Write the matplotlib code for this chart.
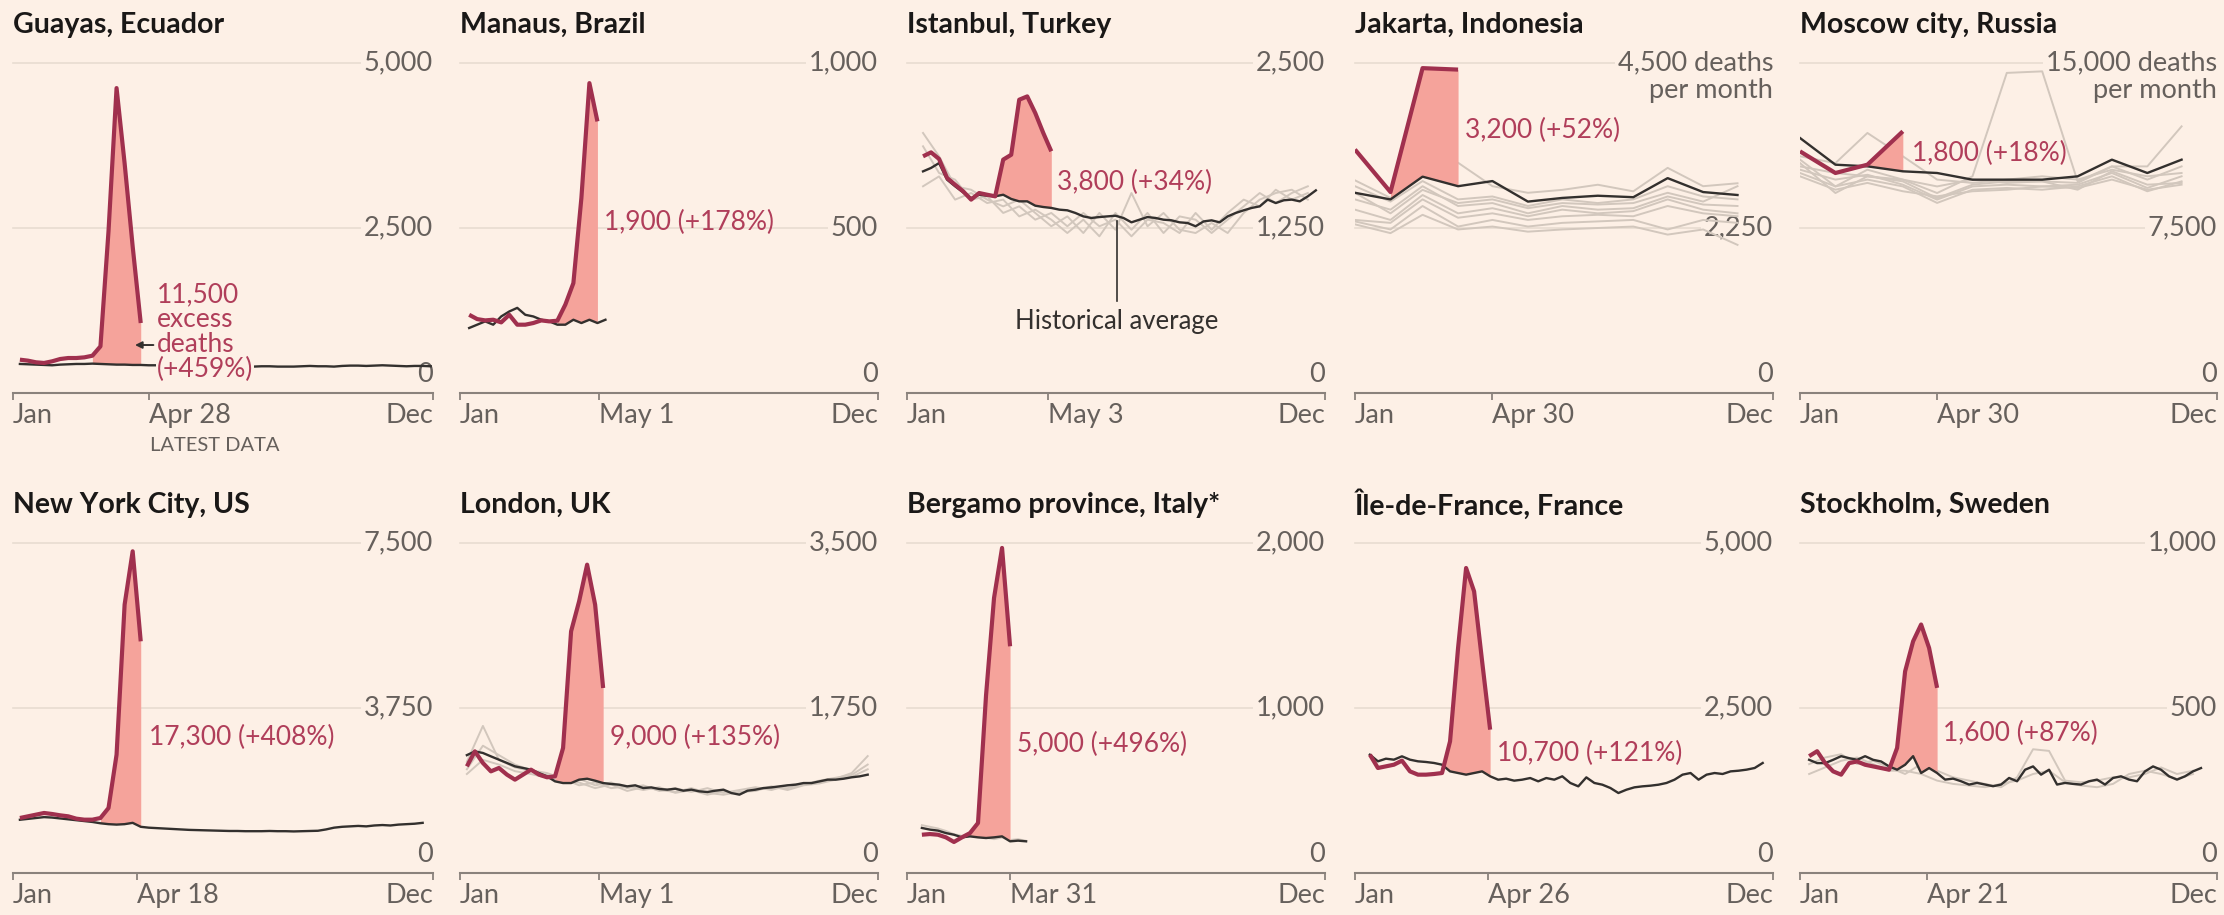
import numpy as np
import matplotlib
matplotlib.use('Agg')
import matplotlib.pyplot as plt
import matplotlib.transforms as mtransforms

# ── colours ──────────────────────────────────────────────────────────────────
BG    = '#FDF0E6'
RED   = '#A0304E'
FILL  = '#F5A39B'
AVG   = '#33302E'
GREY  = '#D2C7BD'
GRID  = '#E8DCD1'
AXIS  = '#8A827C'
TXT   = '#66605C'
NOTE  = '#B03E5A'

plt.rcParams.update({
    'font.family': ['Lato', 'DejaVu Sans'],
    'font.size': 17,
})

MONTH_DAYS = [0, 31, 59, 90, 120, 151, 181, 212, 243, 273, 304, 334]

# ── data (deaths per week unless stated) ─────────────────────────────────────
guayas_2020 = [505, 490, 465, 455, 480, 515, 530, 530, 540, 565, 707, 2450, 4620, 3480, 2220, 1060]
guayas_avg = [440, 435, 430, 425, 420, 430, 435, 440, 440, 445, 440, 435, 430, 430, 425, 425,
              420, 420, 415, 410, 410, 405, 405, 400, 400, 400, 405, 405, 400, 400, 405, 405,
              400, 400, 400, 405, 410, 405, 405, 400, 410, 415, 415, 410, 415, 420, 415, 410,
              405, 410, 410, 405]

manaus_2020 = [237, 224, 220, 222, 214, 237, 207, 207, 212, 220, 217, 219, 268, 333, 591, 939, 823]
manaus_avg = [197, 207, 217, 207, 232, 247, 258, 237, 232, 222, 217, 207, 207, 222, 212, 222, 212, 222]

istanbul_2020 = [1793, 1823, 1773, 1629, 1578, 1528, 1465, 1515, 1502, 1490, 1768, 1805, 2222,
                 2247, 2121, 1970, 1831]
istanbul_avg = [1679, 1705, 1742, 1616, 1566, 1520, 1477, 1502, 1495, 1490, 1502, 1470, 1452,
                1452, 1419, 1409, 1402, 1389, 1384, 1364, 1338, 1326, 1333, 1338, 1343, 1326,
                1293, 1313, 1333, 1326, 1313, 1308, 1293, 1288, 1263, 1300, 1308, 1293, 1338,
                1364, 1384, 1402, 1414, 1465, 1439, 1460, 1465, 1452, 1490, 1535]
istanbul_past = [
    [1970, 1793, 1566, 1540, 1465, 1414, 1465, 1364, 1263, 1338, 1212, 1364, 1237, 1515, 1263,
     1364, 1237, 1212, 1288, 1212, 1364, 1465, 1515, 1540, 1465],
    [1566, 1641, 1465, 1515, 1439, 1465, 1338, 1389, 1313, 1212, 1313, 1187, 1364, 1237, 1364,
     1212, 1338, 1313, 1212, 1313, 1414, 1515, 1439, 1515, 1566],
    [1869, 1667, 1616, 1465, 1490, 1364, 1414, 1313, 1364, 1263, 1364, 1263, 1313, 1187, 1313,
     1288, 1212, 1364, 1237, 1364, 1465, 1414, 1540, 1465, 1515],
]

# monthly
jakarta_2020 = [3320, 2740, 4430, 4410]
jakarta_avg = [2730, 2640, 2950, 2820, 2890, 2610, 2660, 2690, 2670, 2930, 2740, 2700]
jakarta_past = [
    [2900, 2660, 2980, 3140, 2820, 2730, 2770, 2840, 2750, 3070, 2820, 2860],
    [2820, 2610, 2890, 2640, 2680, 2550, 2640, 2590, 2640, 2820, 2680, 2640],
    [2640, 2500, 2820, 2550, 2590, 2450, 2550, 2500, 2520, 2680, 2570, 2550],
    [2360, 2320, 2640, 2390, 2450, 2360, 2410, 2430, 2410, 2550, 2450, 2410],
    [2340, 2230, 2550, 2270, 2360, 2270, 2320, 2340, 2360, 2230, 2360, 2320],
    [2300, 2180, 2430, 2230, 2270, 2200, 2230, 2250, 2270, 2160, 2230, 2020],
    [2500, 2360, 2700, 2450, 2520, 2410, 2500, 2450, 2480, 2640, 2500, 2450],
    [2730, 2450, 2770, 2590, 2640, 2520, 2590, 2570, 2590, 2730, 2610, 2820],
]

moscow_2020 = [10985, 10000, 10378, 11894]
moscow_avg = [11591, 10378, 10303, 10076, 10000, 9697, 9697, 9697, 9848, 10606, 10000, 10606]
moscow_past = [
    [10610, 9390, 10150, 9700, 9090, 9850, 14550, 14620, 9620, 10300, 9700, 10300],
    [10760, 10450, 11820, 10760, 9700, 9550, 9700, 9850, 9700, 10150, 9850, 10000],
    [10300, 10000, 9850, 9700, 9390, 9700, 9550, 9620, 9550, 10300, 10300, 12120],
    [10150, 9700, 9920, 9470, 8790, 9390, 9470, 9390, 9470, 10000, 9320, 9850],
    [10000, 9390, 9700, 9390, 8640, 9240, 9320, 9240, 9390, 9850, 9170, 9620],
    [10450, 9090, 9850, 9620, 8860, 9470, 9620, 9620, 9240, 10080, 9470, 9550],
    [9850, 9240, 9550, 9170, 8940, 9170, 9240, 9390, 9320, 9700, 9240, 9470],
]

nyc_2020 = [1250, 1288, 1326, 1364, 1341, 1311, 1288, 1235, 1212, 1212, 1250, 1477, 2689, 6100,
            7311, 5265]
nyc_avg = [1210, 1230, 1250, 1270, 1260, 1240, 1220, 1200, 1180, 1160, 1130, 1110, 1100, 1110,
           1140, 1050, 1030, 1020, 1010, 1000, 990, 980, 975, 970, 965, 960, 955, 955, 950, 950,
           950, 955, 950, 950, 945, 950, 955, 960, 990, 1030, 1050, 1060, 1070, 1060, 1080, 1090,
           1080, 1100, 1110, 1120, 1140]

london_2020 = [1131, 1290, 1167, 1078, 1114, 1043, 990, 1043, 1096, 1043, 1015, 1025, 1326, 2563,
               2881, 3270, 2846, 1962]
london_avg = [1250, 1290, 1273, 1237, 1202, 1167, 1131, 1114, 1096, 1060, 1025, 972, 954, 954,
              990, 1000, 979, 954, 944, 937, 919, 930, 901, 908, 891, 884, 894, 873, 884, 866,
              859, 873, 884, 848, 831, 873, 884, 901, 908, 919, 930, 937, 954, 954, 972, 990,
              990, 1000, 1015, 1025, 1043]
london_past = [
    [1180, 1560, 1200, 1120, 1080, 1040, 990, 1000, 930, 960, 900, 930, 870, 900, 860, 900, 850,
     880, 910, 880, 930, 950, 960, 1000, 1060, 1240],
    [1100, 1350, 1250, 1150, 1090, 1060, 1000, 930, 960, 900, 920, 880, 910, 850, 880, 830, 870,
     840, 890, 900, 900, 940, 980, 1010, 1040, 1150],
    [1050, 1200, 1150, 1080, 1050, 1010, 970, 960, 900, 940, 870, 910, 880, 860, 900, 850, 830,
     860, 870, 920, 880, 930, 950, 990, 1020, 1100],
]

bergamo_2020 = [232, 236, 232, 216, 188, 216, 242, 303, 1075, 1667, 1970, 1374]
bergamo_avg = [273, 263, 257, 242, 232, 216, 222, 216, 212, 216, 222, 192, 196, 192]
bergamo_past = [[290, 280, 270, 255, 235, 225, 230, 220, 215, 205, 215, 200, 205, 195]]

paris_2020 = [1793, 1591, 1616, 1641, 1702, 1540, 1490, 1490, 1500, 1515, 1995, 3409, 4621, 4267,
              3207, 2172]
paris_avg = [1793, 1692, 1732, 1717, 1768, 1717, 1692, 1682, 1667, 1641, 1540, 1515, 1490, 1515,
             1540, 1465, 1414, 1429, 1399, 1414, 1439, 1389, 1439, 1414, 1465, 1364, 1313, 1449,
             1364, 1338, 1288, 1212, 1262, 1298, 1313, 1323, 1338, 1364, 1414, 1490, 1515, 1414,
             1490, 1515, 1500, 1540, 1550, 1566, 1591, 1667]

stockholm_2020 = [354, 369, 333, 308, 298, 333, 338, 328, 323, 318, 313, 379, 611, 702, 753, 682,
                  561]
stockholm_avg = [343, 333, 333, 343, 354, 348, 343, 354, 343, 338, 323, 313, 328, 354, 303, 318,
                 303, 283, 286, 278, 268, 273, 268, 263, 268, 288, 278, 313, 323, 298, 313, 268,
                 273, 270, 268, 278, 283, 268, 288, 293, 283, 278, 308, 323, 313, 293, 283, 293,
                 308, 318]
stockholm_past = [
    [330, 350, 360, 330, 340, 320, 300, 330, 310, 290, 280, 270, 260, 290, 375, 370, 280, 275,
     280, 290, 290, 300, 320, 300, 310],
    [300, 320, 340, 350, 330, 310, 310, 300, 280, 270, 265, 260, 270, 280, 300, 310, 275, 265,
     260, 270, 300, 310, 300, 285, 300],
]

# ── panel setup ──────────────────────────────────────────────────────────────
# x: 'start' = day of first weekly point; 'monthly' uses MONTH_DAYS
panels = [
    dict(title='Guayas, Ecuador', top=5000, date=(118, 'Apr 28'), start=6,
         cur=guayas_2020, avg=guayas_avg, past=[], past_step=7, fill_from=9,
         note='11,500\nexcess\ndeaths\n(+459%)', note_xy=(125, 924)),
    dict(title='Manaus, Brazil', top=1000, date=(121, 'May 1'), start=8,
         cur=manaus_2020, avg=manaus_avg, past=[], past_step=7, fill_from=11,
         note='1,900 (+178%)', note_xy=(126, 518)),
    dict(title='Istanbul, Turkey', top=2500, date=(123, 'May 3'), start=14,
         cur=istanbul_2020, avg=istanbul_avg, past=istanbul_past, past_step=14, fill_from=9,
         note='3,800 (+34%)', note_xy=(131, 1598)),
    dict(title='Jakarta, Indonesia', top=4500, date=(120, 'Apr 30'), start='monthly',
         cur=jakarta_2020, avg=jakarta_avg, past=jakarta_past, past_step=None, fill_from=1,
         note='3,200 (+52%)', note_xy=(96, 3586), unit=True),
    dict(title='Moscow city, Russia', top=15000, date=(120, 'Apr 30'), start='monthly',
         cur=moscow_2020, avg=moscow_avg, past=moscow_past, past_step=None, fill_from=2,
         note='1,800 (+18%)', note_xy=(98, 10909), unit=True),
    dict(title='New York City, US', top=7500, date=(108, 'Apr 18'), start=6,
         cur=nyc_2020, avg=nyc_avg, past=[], past_step=7, fill_from=10,
         note='17,300 (+408%)', note_xy=(118, 3091)),
    dict(title='London, UK', top=3500, date=(121, 'May 1'), start=6,
         cur=london_2020, avg=london_avg, past=london_past, past_step=14, fill_from=11,
         note='9,000 (+135%)', note_xy=(131, 1442)),
    dict(title='Bergamo province, Italy*', top=2000, date=(90, 'Mar 31'), start=13,
         cur=bergamo_2020, avg=bergamo_avg, past=bergamo_past, past_step=7, fill_from=6,
         note='5,000 (+496%)', note_xy=(96, 776)),
    dict(title='Île-de-France, France', top=5000, date=(116, 'Apr 26'), start=13,
         cur=paris_2020, avg=paris_avg, past=[], past_step=7, fill_from=9,
         note='10,700 (+121%)', note_xy=(124, 1818)),
    dict(title='Stockholm, Sweden', top=1000, date=(111, 'Apr 21'), start=8,
         cur=stockholm_2020, avg=stockholm_avg, past=stockholm_past, past_step=14, fill_from=10,
         note='1,600 (+87%)', note_xy=(125, 424)),
]

# pixel layout of the plotting areas
W, H = 2224, 915
COL_PX = [(13, 433), (460, 878), (907, 1325), (1355, 1773), (1800, 2217)]
ROW_PX = [(63, 393), (543, 873)]
TITLE_Y = [25, 505]
LBL = 19.5     # axis label size
NOTE_FS = 19


def xs(start, n, step=7):
    if start == 'monthly':
        return np.array(MONTH_DAYS[:n])
    return start + step * np.arange(n)


fig = plt.figure(figsize=(W / 100, H / 100), dpi=100)
fig.patch.set_facecolor(BG)

for k, p in enumerate(panels):
    row, col = divmod(k, 5)
    l, r = COL_PX[col]
    t, b = ROW_PX[row]
    ax = fig.add_axes([l / W, 1 - b / H, (r - l) / W, (b - t) / H])
    ax.set_facecolor('none')
    ax.set_xlim(0, 365)
    ax.set_ylim(0, p['top'])

    fig.text(l / W, 1 - TITLE_Y[row] / H, p['title'], fontsize=20.5, fontweight='bold',
             color='#1A1817', ha='left', va='center')

    # grid + y labels
    top, mid = p['top'], p['top'] / 2
    for v in (mid, top):
        ax.axhline(v, color=GRID, lw=1.2, zorder=0.5, clip_on=False)
    bb = dict(fc=BG, ec='none', pad=2)
    ax.text(365, mid, f'{int(mid):,}', ha='right', va='center', color=TXT, fontsize=LBL,
            bbox=bb, zorder=1)
    if p.get('unit'):
        ax.text(365, top, f'{top:,} deaths', ha='right', va='center', color=TXT, fontsize=LBL,
                bbox=bb, zorder=1)
        ax.annotate('per month', xy=(365, top), xytext=(0, -20), textcoords='offset points',
                    ha='right', va='center', color=TXT, fontsize=LBL, zorder=1)
    else:
        ax.text(365, top, f'{top:,}', ha='right', va='center', color=TXT, fontsize=LBL,
                bbox=bb, zorder=1)
    ax.annotate('0', xy=(365, 0), xytext=(0, 4), textcoords='offset points',
                ha='right', va='bottom', color=TXT, fontsize=LBL)

    # past years
    for series in p['past']:
        if p['start'] == 'monthly':
            px = xs('monthly', len(series))
        else:
            px = xs(p['start'], len(series), p['past_step'])
        ax.plot(px, series, color=GREY, lw=1.4, zorder=2, solid_joinstyle='round')

    cur = np.array(p['cur'], float)
    avg = np.array(p['avg'], float)
    xc = xs(p['start'], len(cur))
    xa = xs(p['start'], len(avg))
    s = p['fill_from']
    ax.fill_between(xc[s:], avg[s:len(cur)], cur[s:], where=cur[s:] >= avg[s:len(cur)],
                    interpolate=True, color=FILL, lw=0, zorder=2.5)
    ax.plot(xa, avg, color=AVG, lw=1.7, zorder=3, solid_joinstyle='round')
    ax.plot(xc, cur, color=RED, lw=3, zorder=4, solid_joinstyle='round',
            solid_capstyle='butt')

    # annotation
    nx, ny = p['note_xy']
    if k == 0:
        ax.text(nx, ny, p['note'], color=NOTE, fontsize=NOTE_FS, ha='left', va='center',
                linespacing=1.0, zorder=5, bbox=dict(fc=BG, ec='none', pad=0.5))
        ax.annotate('', xy=(106, 727), xytext=(122, 727),
                    arrowprops=dict(arrowstyle='-|>', color=AVG, lw=1.4,
                                    mutation_scale=10, shrinkA=0, shrinkB=0), zorder=5)
        tr = mtransforms.blended_transform_factory(ax.transData, ax.transAxes)
        ax.text(p['date'][0] + 1, -0.16, 'LATEST DATA', transform=tr, fontsize=14.5,
                color=TXT, ha='left', va='center')
    else:
        ax.text(nx, ny, p['note'], color=NOTE, fontsize=NOTE_FS, ha='left', va='center',
                zorder=5)

    if k == 2:
        ax.plot([183, 183], [1300, 700], color=AVG, lw=1.2, zorder=5)
        ax.text(183, 538, 'Historical average', color=AVG, fontsize=18.5, ha='center',
                va='center', zorder=5)

    # axes styling
    for sp in ('top', 'right', 'left'):
        ax.spines[sp].set_visible(False)
    ax.spines['bottom'].set_color(AXIS)
    ax.spines['bottom'].set_linewidth(1.5)
    ax.set_yticks([])
    ax.set_xticks([0, p['date'][0], 365])
    labs = ax.set_xticklabels(['Jan', p['date'][1], 'Dec'])
    labs[0].set_ha('left')
    labs[1].set_ha('left')
    labs[2].set_ha('right')
    ax.tick_params(axis='x', length=5, width=1.3, color=AXIS, labelcolor=TXT,
                   labelsize=LBL, pad=2)

fig.savefig('out.png', dpi=100, facecolor=BG)
